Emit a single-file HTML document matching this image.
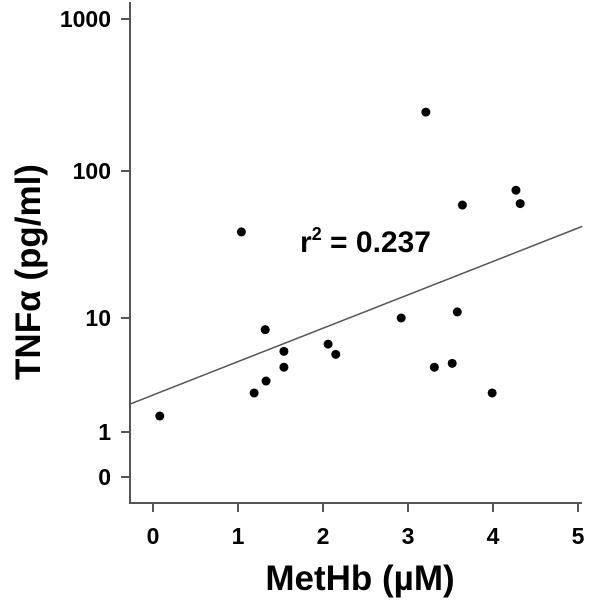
<!DOCTYPE html>
<html><head><meta charset="utf-8"><style>
body{margin:0;background:#fff}
svg text{font-family:"Liberation Sans",Arial,sans-serif;font-weight:bold;fill:#000}
</style></head><body>
<svg id="chart" width="600" height="600" viewBox="0 0 600 600">
<g id="axes"></g><g id="marks"></g>
</svg>
<script>
const xValues=[0.08,1.04,1.32,1.19,1.33,1.54,1.54,2.06,2.15,2.92,3.21,3.31,3.52,3.58,3.64,3.99,4.27,4.32];
const yValues=[1.38,38.5,7.9,2.2,2.8,5.1,3.7,5.9,4.8,10,244,3.7,4.0,11,58.7,2.2,74,60];
const xTicks=[0,1,2,3,4,5];
const yTicks=[0,1,10,100,1000];
const fitStart=[-0.27,1.76];
const fitEnd=[5.05,42];
const NS='http://www.w3.org/2000/svg';
function xs(v){return 153+v*85;}
const decPos=[432,318,171,19];
function ys(v){
  if(v<=0)return 477;
  if(v<1)return 477-(477-432)*v;
  let l=Math.log10(v);let i=Math.min(2,Math.floor(l));
  return decPos[i]+(decPos[i+1]-decPos[i])*(l-i);
}
function mk(tag,attrs,parent){const e=document.createElementNS(NS,tag);for(const k in attrs)e.setAttribute(k,attrs[k]);parent.appendChild(e);return e;}
const ax=document.getElementById('axes'),mg=document.getElementById('marks');
let e=mk('line',{x1:130,y1:2,x2:130,y2:503,stroke:'#555','stroke-width':2},ax);


e=mk('line',{x1:129,y1:503,x2:582,y2:503,stroke:'#555','stroke-width':2},ax);


yTicks.forEach(t=>{const y=ys(t);
  let l=mk('line',{x1:121,y1:y,x2:130,y2:y,stroke:'#555','stroke-width':2},ax);
  
  
  let tx=mk('text',{x:111,y:y+8,'text-anchor':'end','font-size':23},ax);tx.textContent=t;
  
  
});
xTicks.forEach(t=>{const x=xs(t);
  let l=mk('line',{x1:x,y1:503,x2:x,y2:512,stroke:'#555','stroke-width':2},ax);
  
  
  let tx=mk('text',{x:x,y:544,'text-anchor':'middle','font-size':23},ax);tx.textContent=t;
  
  
});
let xt=mk('text',{x:360,y:590,'text-anchor':'middle','font-size':35},ax);xt.textContent='MetHb (µM)';


let yt=mk('text',{x:0,y:0,'text-anchor':'middle','font-size':35,transform:'translate(40,272) rotate(-90)'},ax);yt.textContent='TNFα (pg/ml)';


let fl=mk('line',{x1:xs(fitStart[0]),y1:ys(fitStart[1]),x2:xs(fitEnd[0]),y2:ys(fitEnd[1]),stroke:'#555','stroke-width':1.5},mg);


xValues.forEach((v,i)=>{
  let c=mk('circle',{cx:xs(v),cy:ys(yValues[i]),r:4.5,fill:'#000'},mg);
  
  
});
let r=mk('text',{x:300,y:252,'font-size':30},mg);
r.innerHTML='r<tspan font-size="18" dy="-12">2</tspan><tspan dy="12"> = 0.237</tspan>';


</script>
</body></html>
